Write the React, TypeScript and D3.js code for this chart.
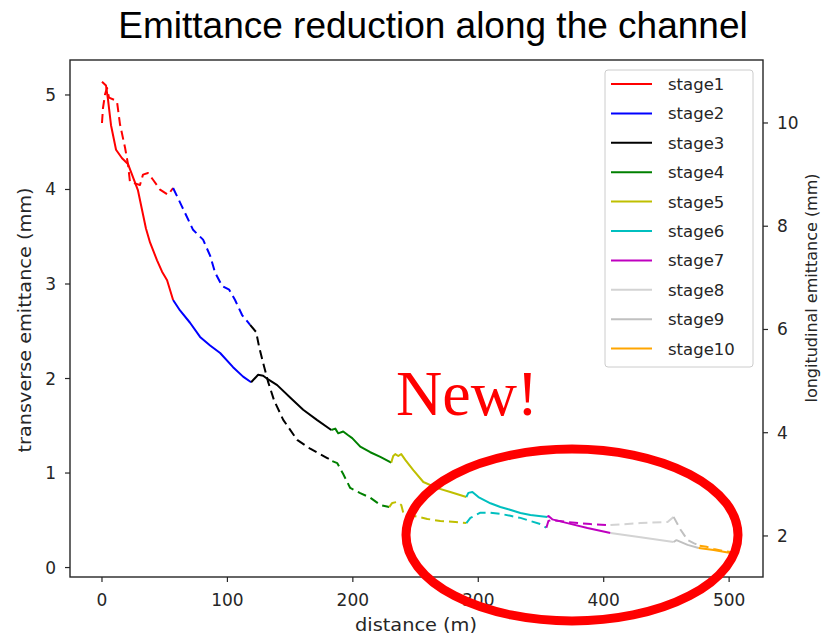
import React from 'react';
import * as d3 from 'd3';

const W = 827;
const H = 637;
const FRAME = { left: 70, right: 763, top: 60, bottom: 577 };

// stage names + matplotlib colours
const stageNames = ['stage1', 'stage2', 'stage3', 'stage4', 'stage5', 'stage6', 'stage7', 'stage8', 'stage9', 'stage10'];
const stageColors = ['#ff0000', '#0000ff', '#000000', '#008000', '#bfbf00', '#00bfbf', '#bf00bf', '#d3d3d3', '#c0c0c0', '#ffa500'];

// transverse emittance (left axis), [distance, mm]
const stage1T = [[0, 5.14], [3.2, 5.1], [4.8, 4.95], [7.2, 4.68], [11.2, 4.42], [16, 4.33], [20.7, 4.27], [24.7, 4.13], [28.7, 3.99], [32, 3.78], [35, 3.59], [38.3, 3.44], [43.9, 3.25], [47.9, 3.13], [51.9, 3.04], [56.7, 2.83]];
const stage2T = [[56.7, 2.83], [62.2, 2.72], [70.2, 2.59], [78.2, 2.44], [86.2, 2.35], [94.2, 2.27], [104.5, 2.12], [112.5, 2.02], [118.9, 1.96]];
const stage3T = [[118.9, 1.96], [124.5, 2.04], [128.5, 2.03], [132.5, 1.99], [139.7, 1.93], [150, 1.8], [160.4, 1.67], [171.6, 1.56], [182.8, 1.455]];
const stage4T = [[182.8, 1.455], [186, 1.47], [188.3, 1.42], [192.3, 1.44], [196.3, 1.4], [199.5, 1.37], [205.9, 1.28], [213.9, 1.22], [221.9, 1.17], [230.6, 1.11]];
const stage5T = [[230.6, 1.11], [232.2, 1.18], [233.8, 1.2], [236.2, 1.18], [238.6, 1.2], [241.8, 1.14], [248.2, 1.03], [256.2, 0.905], [267.4, 0.84], [277.7, 0.8], [290.5, 0.746]];
const stage6T = [[290.5, 0.746], [292.1, 0.79], [295.3, 0.8], [300.1, 0.746], [309.7, 0.68], [317.6, 0.64], [323.2, 0.62], [333.6, 0.577], [341.6, 0.556], [355.1, 0.534]];
const stage7T = [[355.1, 0.534], [356, 0.545], [359, 0.51], [371, 0.47], [387, 0.418], [405.4, 0.365]];
const stage8T = [[405.4, 0.365], [429.4, 0.32], [455.7, 0.27]];
const stage9T = [[455.7, 0.27], [458, 0.29], [466.9, 0.24], [475.7, 0.206]];
const stage10T = [[475.7, 0.206], [487.6, 0.185], [501.2, 0.153]];

// longitudinal emittance (right axis), [distance, mm]
const stage1L = [[0, 10.0], [0.8, 10.29], [2.4, 10.55], [4, 10.68], [5.6, 10.49], [9.6, 10.45], [12, 10.41], [14.4, 9.97], [18.4, 9.52], [20.8, 9.19], [22.3, 8.86], [24.7, 8.84], [30.3, 8.8], [32.7, 9.0], [36.7, 9.03], [40.7, 8.9], [46.3, 8.71], [52.7, 8.61], [56.7, 8.74]];
const stage2L = [[56.7, 8.74], [63.8, 8.38], [72.6, 7.93], [80.6, 7.74], [86.2, 7.43], [90.2, 7.1], [95.8, 6.84], [101.4, 6.77], [106.1, 6.57], [111.7, 6.28], [118.1, 6.09]];
const stage3L = [[118.1, 6.09], [122.9, 5.95], [125.3, 5.66], [128.5, 5.35], [132.5, 4.98], [137.3, 4.62], [144.5, 4.25], [155.6, 3.86], [166, 3.69], [179.6, 3.51], [183.6, 3.45]];
const stage4L = [[183.6, 3.45], [187.6, 3.41], [192.3, 3.2], [197.9, 2.93], [205.9, 2.83], [213.9, 2.74], [221.9, 2.6], [229, 2.56]];
const stage5L = [[229, 2.56], [231.4, 2.64], [235.4, 2.66], [238.6, 2.6], [240.2, 2.45], [248.2, 2.39], [259.4, 2.33], [269.7, 2.29], [281.7, 2.27], [290.5, 2.25]];
const stage6L = [[290.5, 2.25], [293.7, 2.35], [301.7, 2.45], [309.7, 2.45], [317.6, 2.43], [325.6, 2.39], [333.6, 2.35], [341.6, 2.29], [349.6, 2.23], [354.3, 2.16]];
const stage7L = [[354.3, 2.16], [355.9, 2.29], [358.3, 2.31], [371.1, 2.27], [389.5, 2.23], [405.4, 2.21]];
const stage8L = [[405.4, 2.21], [429.4, 2.25], [450.9, 2.27], [455.7, 2.37]];
const stage9L = [[455.7, 2.37], [461.3, 2.12], [466.9, 1.92], [471.7, 1.86], [476.5, 1.81]];
const stage10L = [[476.5, 1.81], [482, 1.79], [487.6, 1.75], [494.8, 1.71], [501.2, 1.69]];

const transverse = [stage1T, stage2T, stage3T, stage4T, stage5T, stage6T, stage7T, stage8T, stage9T, stage10T];
const longitudinal = [stage1L, stage2L, stage3L, stage4L, stage5L, stage6L, stage7L, stage8L, stage9L, stage10L];

const xTicks = [0, 100, 200, 300, 400, 500];
const yLeftTicks = [0, 1, 2, 3, 4, 5];
const yRightTicks = [2, 4, 6, 8, 10];

const FONT = 'DejaVu Sans, sans-serif';
const INK = '#262626';

export default function App() {
    const x = d3.scaleLinear().domain([-25.5, 527]).range([FRAME.left, FRAME.right]);
    const yL = d3.scaleLinear().domain([-0.1, 5.37]).range([FRAME.bottom, FRAME.top]);
    const yR = d3.scaleLinear().domain([1.205, 11.22]).range([FRAME.bottom, FRAME.top]);

    const lineL = d3.line<number[]>().x((d) => x(d[0])).y((d) => yL(d[1]));
    const lineR = d3.line<number[]>().x((d) => x(d[0])).y((d) => yR(d[1]));

    const legendX = 605;
    const legendY = 70;
    const rowH = 29.4;

    return (
        <svg width={W} height={H} style={{ position: 'absolute', left: 0, top: 0, background: '#fff' }}>
            <text x={433} y={38} textAnchor="middle" fontFamily="Liberation Sans, Arial, sans-serif" fontSize={37} fill="#000">
                Emittance reduction along the channel
            </text>

            {/* data */}
            <g fill="none" strokeWidth={2} strokeLinejoin="round">
                {longitudinal.map((d, i) => (
                    <path key={'l' + i} d={lineR(d) || ''} stroke={stageColors[i]} strokeDasharray="9,5" />
                ))}
                {transverse.map((d, i) => (
                    <path key={'t' + i} d={lineL(d) || ''} stroke={stageColors[i]} />
                ))}
            </g>

            {/* frame */}
            <rect x={FRAME.left} y={FRAME.top} width={FRAME.right - FRAME.left} height={FRAME.bottom - FRAME.top}
                fill="none" stroke={INK} strokeWidth={1.4} />

            {/* x axis */}
            {xTicks.map((t) => (
                <g key={'x' + t}>
                    <line x1={x(t)} x2={x(t)} y1={FRAME.bottom} y2={FRAME.bottom + 5} stroke={INK} strokeWidth={1.2} />
                    <text x={x(t)} y={606} textAnchor="middle" fontFamily={FONT} fontSize={17} fill={INK}>{t}</text>
                </g>
            ))}
            <text x={416} y={631} textAnchor="middle" fontFamily={FONT} fontSize={17} fill={INK}
                textLength={122} lengthAdjust="spacingAndGlyphs">distance (m)</text>

            {/* left axis */}
            {yLeftTicks.map((t) => (
                <g key={'yl' + t}>
                    <line x1={FRAME.left - 5} x2={FRAME.left} y1={yL(t)} y2={yL(t)} stroke={INK} strokeWidth={1.2} />
                    <text x={56} y={yL(t) + 6} textAnchor="end" fontFamily={FONT} fontSize={17} fill={INK}>{t}</text>
                </g>
            ))}
            <text transform="translate(31,320) rotate(-90)" textAnchor="middle" fontFamily={FONT} fontSize={17} fill={INK}
                textLength={265} lengthAdjust="spacingAndGlyphs">transverse emittance (mm)</text>

            {/* right axis */}
            {yRightTicks.map((t) => (
                <g key={'yr' + t}>
                    <line x1={FRAME.right} x2={FRAME.right + 5} y1={yR(t)} y2={yR(t)} stroke={INK} strokeWidth={1.2} />
                    <text x={777} y={yR(t) + 6} textAnchor="start" fontFamily={FONT} fontSize={17} fill={INK}>{t}</text>
                </g>
            ))}
            <text transform="translate(817,288) rotate(-90)" textAnchor="middle" fontFamily={FONT} fontSize={16} fill={INK}
                textLength={229} lengthAdjust="spacingAndGlyphs">longitudinal emittance (mm)</text>

            {/* legend */}
            <rect x={legendX} y={legendY} width={148} height={297} rx={3} fill="#fff" fillOpacity={0.8} stroke="#cccccc" strokeWidth={1} />
            {stageNames.map((name, i) => {
                const cy = legendY + 14 + i * rowH;
                return (
                    <g key={name}>
                        <line x1={611} x2={652} y1={cy} y2={cy} stroke={stageColors[i]} strokeWidth={2} />
                        <text x={668} y={cy + 6} fontFamily={FONT} fontSize={16.5} fill={INK}>{name}</text>
                    </g>
                );
            })}

            {/* annotation */}
            <text x={396} y={415} fontFamily="Liberation Serif, Times New Roman, serif" fontSize={64} fill="#ff0000">New!</text>
            <ellipse cx={572} cy={535} rx={166} ry={86} fill="none" stroke="#ff0000" strokeWidth={9} />
        </svg>
    );
}
